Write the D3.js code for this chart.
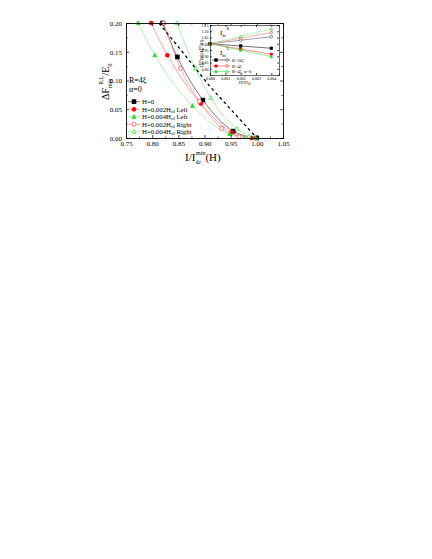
<!DOCTYPE html>
<html><head><meta charset="utf-8">
<script src="https://cdn.jsdelivr.net/npm/d3@7"></script>
<style>
html,body{margin:0;padding:0;background:#fff;}
text{font-family:"Liberation Serif","DejaVu Serif",serif;}
</style></head>
<body><svg id="c" width="432" height="559"></svg>
<script>
// ---- main chart data ----
const xH0 = [0.820, 0.848, 0.897, 0.955, 1.000];
const yH0 = [0.200, 0.141, 0.066, 0.012, 0.000];
const xRedL = [0.798, 0.829, 0.893, 0.952, 0.990];
const yRedL = [0.200, 0.144, 0.060, 0.010, 0.000];
const xGreenL = [0.773, 0.805, 0.877, 0.948, 0.998];
const yGreenL = [0.200, 0.144, 0.056, 0.007, 0.000];
const xRedR = [0.822, 0.854, 0.890, 0.933, 0.966];
const yRedR = [0.200, 0.121, 0.064, 0.017, 0.002];
const xGreenR = [0.847, 0.883, 0.912, 0.962, 0.985];
const yGreenR = [0.200, 0.121, 0.070, 0.016, 0.003];
const xDash = [0.813, 0.862, 0.910, 0.955, 1.000];
const yDash = [0.200, 0.145, 0.090, 0.045, 0.000];
const xTicks = [0.75, 0.80, 0.85, 0.90, 0.95, 1.00, 1.05];
const yTicks = [0.00, 0.05, 0.10, 0.15, 0.20];
const legendLabels = ["H=0", "H=0.002H|c0| Left", "H=0.004H|c0| Left", "H=0.002H|c0| Right", "H=0.004H|c0| Right"];

// ---- inset data ----
const insetX = [0, 0.002, 0.004];
const insetBlackL = [1.000, 0.982, 0.964];
const insetBlackR = [1.000, 1.028, 1.056];
const insetRedL = [1.000, 0.958, 0.916];
const insetRedR = [1.000, 1.045, 1.090];
const insetGreenL = [1.000, 0.948, 0.897];
const insetGreenR = [1.000, 1.059, 1.118];
const insetXTicks = [0, 0.001, 0.002, 0.003, 0.004];
const insetYTicks = [0.80, 0.85, 0.90, 0.95, 1.00, 1.05, 1.10, 1.15];
const insetLegend = ["R=20ξ", "R=4ξ", "R=4ξ, α=0"];

const svg = d3.select("#c");
const serif = '"Liberation Serif","DejaVu Serif",serif';

// scales
const x = d3.scaleLinear().domain([0.75, 1.05]).range([126, 283]);
const y = d3.scaleLinear().domain([0, 0.20]).range([138, 23]);

svg.append("clipPath").attr("id","clipMain").append("rect")
  .attr("x",126).attr("y",22).attr("width",157).attr("height",117);

const line = d3.line().x(d=>x(d[0])).y(d=>y(d[1])).curve(d3.curveMonotoneX);
const zip = (a,b)=>a.map((v,i)=>[v,b[i]]);

const series = [
  {xs:xH0, ys:yH0, mk:"square", fill:"#000", stroke:"#000", lc:"#555"},
  {xs:xRedL, ys:yRedL, mk:"circle", fill:"#ff0000", stroke:"#ff0000", lc:"#ff8c8c"},
  {xs:xGreenL, ys:yGreenL, mk:"triangle", fill:"#22dd22", stroke:"#22dd22", lc:"#9cef9c"},
  {xs:xRedR, ys:yRedR, mk:"circle", fill:"#fff", stroke:"#ff4040", lc:"#ff8c8c"},
  {xs:xGreenR, ys:yGreenR, mk:"triangle", fill:"#fff", stroke:"#33dd33", lc:"#9cef9c"}
];

function marker(g, type, cx, cy, s, fill, stroke){
  if(type==="square"){
    g.append("rect").attr("x",cx-s/2).attr("y",cy-s/2).attr("width",s).attr("height",s)
      .attr("fill",fill).attr("stroke",stroke).attr("stroke-width",0.6);
  } else if(type==="circle"){
    g.append("circle").attr("cx",cx).attr("cy",cy).attr("r",s/2)
      .attr("fill",fill).attr("stroke",stroke).attr("stroke-width",0.7);
  } else {
    const h=s*0.9;
    g.append("path").attr("d",`M${cx},${cy-h*0.6}L${cx+s/2},${cy+h*0.45}L${cx-s/2},${cy+h*0.45}Z`)
      .attr("fill",fill).attr("stroke",stroke).attr("stroke-width",0.7);
  }
}

const plot = svg.append("g");
series.forEach(s=>{
  plot.append("path").attr("d", line(zip(s.xs,s.ys))).attr("fill","none")
    .attr("stroke", s.lc).attr("stroke-width",0.8).attr("clip-path","url(#clipMain)");
});
plot.append("path").attr("d", d3.line().x(d=>x(d[0])).y(d=>y(d[1]))(zip(xDash,yDash))).attr("fill","none")
  .attr("stroke","#000").attr("stroke-width",1.3).attr("stroke-dasharray","3,3").attr("clip-path","url(#clipMain)");
series.forEach(s=>{
  zip(s.xs,s.ys).forEach(p=>marker(plot, s.mk, x(p[0]), y(p[1]), 4, s.fill, s.stroke));
});

function styleAxis(g, fs){
  g.selectAll("path").attr("stroke","#000").attr("stroke-width",0.9);
  g.selectAll("line").attr("stroke","#000").attr("stroke-width",0.7);
  g.selectAll("text").attr("font-family",serif).attr("font-size",fs).attr("fill","#000");
}
const minorX = d3.range(0.775, 1.05, 0.05);
const minorY = d3.range(0.025, 0.2, 0.05);
let g;
g = svg.append("g").attr("transform","translate(0,138)")
  .call(d3.axisBottom(x).tickValues(xTicks).tickFormat(d3.format(".2f")).tickSize(-3).tickPadding(3));
styleAxis(g, 7);
g = svg.append("g").attr("transform","translate(0,23)")
  .call(d3.axisTop(x).tickValues(xTicks).tickFormat("").tickSize(-3));
styleAxis(g, 7);
g = svg.append("g").attr("transform","translate(126,0)")
  .call(d3.axisLeft(y).tickValues(yTicks).tickFormat(d3.format(".2f")).tickSize(-3).tickPadding(4));
styleAxis(g, 7);
g = svg.append("g").attr("transform","translate(283,0)")
  .call(d3.axisRight(y).tickValues(yTicks).tickFormat("").tickSize(-3));
styleAxis(g, 7);
[[d3.axisBottom(x),138,minorX,true],[d3.axisTop(x),23,minorX,true],[d3.axisLeft(y),126,minorY,false],[d3.axisRight(y),283,minorY,false]]
 .forEach(([ax,pos,vals,isX])=>{
   const gg = svg.append("g").attr("transform", isX?`translate(0,${pos})`:`translate(${pos},0)`)
     .call(ax.tickValues(vals).tickFormat("").tickSize(-1.6));
   gg.select("path").remove();
   gg.selectAll("line").attr("stroke","#000").attr("stroke-width",0.6);
 });

// axis titles
const xt = svg.append("text").attr("x",185).attr("y",161).attr("font-size",11).attr("fill","#000");
xt.append("tspan").text("I/I");
xt.append("tspan").attr("font-size",6).attr("dy",2.5).text("dc");
xt.append("tspan").attr("font-size",6).attr("dy",-9).attr("dx",-5).text("min");
xt.append("tspan").attr("dy",6.5).text("(H)");

const yt = svg.append("text").attr("transform","translate(109,100) rotate(-90)").attr("font-size",10).attr("fill","#000");
yt.append("tspan").text("ΔF");
yt.append("tspan").attr("font-size",6).attr("dy",3).text("min");
yt.append("tspan").attr("font-size",6).attr("dy",-9).attr("dx",-6).text("R,L");
yt.append("tspan").attr("dy",6).text("/E");
yt.append("tspan").attr("font-size",6).attr("dy",2.5).text("0");

svg.append("text").attr("x",129).attr("y",83).attr("font-size",8).text("R=4ξ");
svg.append("text").attr("x",129).attr("y",92).attr("font-size",8).text("α=0");

// legend
const legY = [101.7, 109.3, 116.8, 124.3, 131.7];
series.forEach((s,i)=>{
  svg.append("line").attr("x1",128).attr("x2",140).attr("y1",legY[i]).attr("y2",legY[i])
    .attr("stroke",s.lc).attr("stroke-width",0.8);
  marker(svg, s.mk, 134, legY[i], 4, s.fill, s.stroke);
  const parts = legendLabels[i].split("|");
  const t = svg.append("text").attr("x",142).attr("y",legY[i]+2.3).attr("font-size",6.8).attr("fill","#000");
  t.append("tspan").text(parts[0]);
  if(parts.length>1){
    t.append("tspan").attr("font-size",4).attr("dy",1.2).text(parts[1]);
    t.append("tspan").attr("dy",-1.2).text(parts[2]);
  }
});

// ---- inset ----
const ix = d3.scaleLinear().domain([0, 0.0045]).range([210, 279]);
const iy = d3.scaleLinear().domain([0.75, 1.15]).range([75, 25]);
svg.append("rect").attr("x",210).attr("y",25).attr("width",69).attr("height",50).attr("fill","#fff");
const iline = d3.line().x(d=>ix(d[0])).y(d=>iy(d[1]));
const iseries = [
  {ys:insetBlackR, mk:"circle", fill:"#fff", stroke:"#555", lc:"#777"},
  {ys:insetRedR, mk:"circle", fill:"#fff", stroke:"#ff4040", lc:"#ff8c8c"},
  {ys:insetGreenR, mk:"triangle", fill:"#fff", stroke:"#33dd33", lc:"#9cef9c"},
  {ys:insetBlackL, mk:"square", fill:"#000", stroke:"#000", lc:"#333"},
  {ys:insetRedL, mk:"circle", fill:"#ff0000", stroke:"#ff0000", lc:"#ff6060"},
  {ys:insetGreenL, mk:"triangle", fill:"#22dd22", stroke:"#22dd22", lc:"#66e066"}
];
iseries.forEach(s=>{
  svg.append("path").attr("d", iline(zip(insetX, s.ys))).attr("fill","none")
    .attr("stroke", s.lc).attr("stroke-width",0.7);
});
iseries.forEach(s=>{
  zip(insetX, s.ys).forEach(p=>marker(svg, s.mk, ix(p[0]), iy(p[1]), 2.6, s.fill, s.stroke));
});
g = svg.append("g").attr("transform","translate(0,75)")
  .call(d3.axisBottom(ix).tickValues(insetXTicks).tickFormat(d3.format(".3f")).tickSize(-2).tickPadding(2));
styleAxis(g, 4); g.select("path").attr("stroke-width",0.6);
g = svg.append("g").attr("transform","translate(0,25)")
  .call(d3.axisTop(ix).tickValues(insetXTicks).tickFormat("").tickSize(-2));
styleAxis(g, 4); g.select("path").attr("stroke-width",0.6);
g = svg.append("g").attr("transform","translate(210,0)")
  .call(d3.axisLeft(iy).tickValues(insetYTicks).tickFormat(d3.format(".2f")).tickSize(-2).tickPadding(1.5));
styleAxis(g, 4); g.select("path").attr("stroke-width",0.6);
g = svg.append("g").attr("transform","translate(279,0)")
  .call(d3.axisRight(iy).tickValues(insetYTicks).tickFormat("").tickSize(-2));
styleAxis(g, 4); g.select("path").attr("stroke-width",0.6);

const ixt = svg.append("text").attr("x",239).attr("y",84).attr("font-size",5).attr("fill","#000");
ixt.append("tspan").text("H/H");
ixt.append("tspan").attr("font-size",3.2).attr("dy",1.2).text("c0");

const iyt = svg.append("text").attr("transform","translate(203,67) rotate(-90)").attr("font-size",5).attr("fill","#000");
iyt.append("tspan").text("I");
iyt.append("tspan").attr("font-size",3.2).attr("dy",1.2).text("dc");
iyt.append("tspan").attr("font-size",3.2).attr("dy",-3.4).attr("dx",-3).text("min");
iyt.append("tspan").attr("dy",2.2).text("(H)/I");
iyt.append("tspan").attr("font-size",3.2).attr("dy",1.2).text("dc");
iyt.append("tspan").attr("font-size",3.2).attr("dy",-3.4).attr("dx",-3).text("min");
iyt.append("tspan").attr("dy",2.2).text("(0)");

function idc(xx, yy, sup){
  const t = svg.append("text").attr("x",xx).attr("y",yy).attr("font-size",7).attr("fill","#000");
  t.append("tspan").text("I");
  t.append("tspan").attr("font-size",4).attr("dy",2).text("dc");
  t.append("tspan").attr("font-size",4).attr("dy",-7).attr("dx",0.5).text(sup);
}
idc(220, 35, "R");
idc(220, 55, "L");

const ilegY = [60, 66, 71.5];
[[3,0],[4,1],[5,2]].forEach(([fi,oi],r)=>{
  const f = iseries[fi], o = iseries[oi];
  svg.append("line").attr("x1",212).attr("x2",230).attr("y1",ilegY[r]).attr("y2",ilegY[r])
    .attr("stroke",f.lc).attr("stroke-width",0.7);
  marker(svg, f.mk, 216, ilegY[r], 2.6, f.fill, f.stroke);
  marker(svg, o.mk, 227, ilegY[r], 2.6, o.fill, o.stroke);
  svg.append("text").attr("x",232).attr("y",ilegY[r]+1.5).attr("font-size",4.5).attr("fill","#000").text(insetLegend[r]);
});
</script>
</body></html>
